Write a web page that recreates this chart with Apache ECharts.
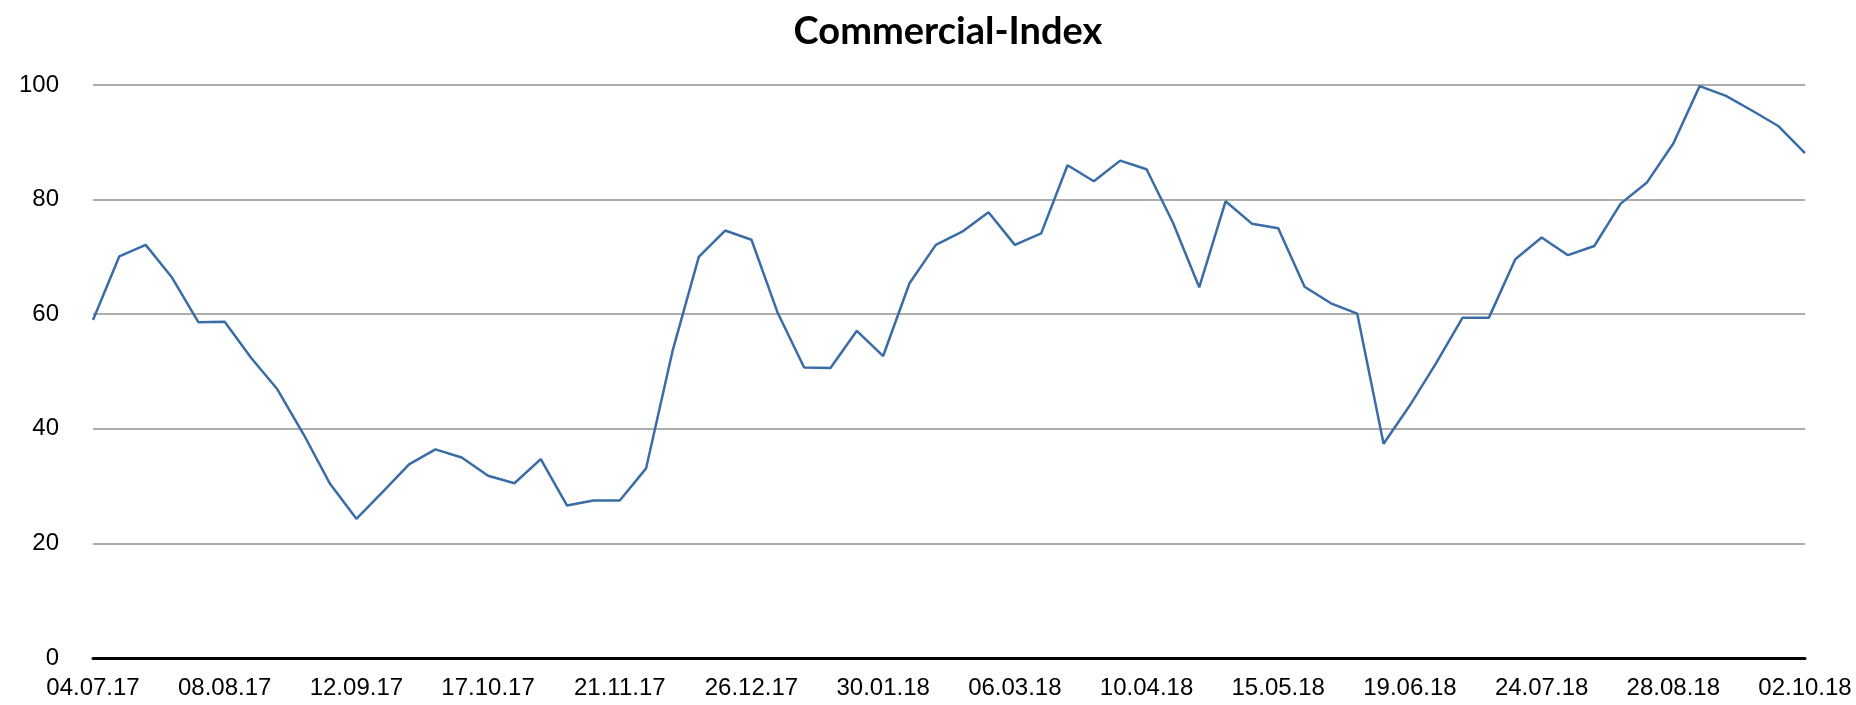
<!DOCTYPE html>
<html>
<head>
<meta charset="utf-8">
<title>Commercial-Index</title>
<script src="https://cdn.jsdelivr.net/npm/echarts@6/dist/echarts.min.js"></script>
<style>
  html, body { margin: 0; padding: 0; background: #fff; }
  #chart { width: 1856px; height: 705px; }
</style>
</head>
<body>
<div id="chart"></div>
<script>
  // weekly dates, 04.07.17 - 02.10.18
  var weeks = [
    '04.07.17', '11.07.17', '18.07.17', '25.07.17', '01.08.17', '08.08.17', '15.08.17', '22.08.17', '29.08.17',
    '05.09.17', '12.09.17', '19.09.17', '26.09.17', '03.10.17', '10.10.17', '17.10.17', '24.10.17', '31.10.17',
    '07.11.17', '14.11.17', '21.11.17', '28.11.17', '05.12.17', '12.12.17', '19.12.17', '26.12.17',
    '02.01.18', '09.01.18', '16.01.18', '23.01.18', '30.01.18', '06.02.18', '13.02.18', '20.02.18', '27.02.18',
    '06.03.18', '13.03.18', '20.03.18', '27.03.18', '03.04.18', '10.04.18', '17.04.18', '24.04.18',
    '01.05.18', '08.05.18', '15.05.18', '22.05.18', '29.05.18', '05.06.18', '12.06.18', '19.06.18', '26.06.18',
    '03.07.18', '10.07.18', '17.07.18', '24.07.18', '31.07.18', '07.08.18', '14.08.18', '21.08.18', '28.08.18',
    '04.09.18', '11.09.18', '18.09.18', '25.09.18', '02.10.18'
  ];
  var indexValues = [
    59.0, 70.1, 72.1, 66.4, 58.6, 58.7, 52.4, 46.9, 39.0, 30.4,
    24.3, 29.0, 33.8, 36.4, 35.0, 31.8, 30.5, 34.7, 26.6, 27.5,
    27.5, 33.1, 53.5, 70.0, 74.6, 73.0, 60.2, 50.7, 50.6, 57.1,
    52.7, 65.4, 72.1, 74.4, 77.8, 72.1, 74.1, 86.0, 83.2, 86.8,
    85.3, 76.0, 64.7, 79.7, 75.8, 75.0, 64.8, 61.9, 60.1, 37.4,
    44.1, 51.5, 59.4, 59.4, 69.6, 73.4, 70.3, 71.9, 79.3, 83.0,
    89.8, 99.8, 98.1, 95.5, 92.8, 88.1
  ];
  var yTicks = [0, 20, 40, 60, 80, 100];

  var labelFont = "'Liberation Sans', Arial, sans-serif";

  var myChart = echarts.init(document.getElementById('chart'));
  myChart.setOption({
    animation: false,
    title: {
      text: 'Commercial-Index',
      left: 948,
      top: 13,
      textAlign: 'center',
      padding: 0,
      textStyle: {
        fontFamily: 'Lato',
        fontWeight: 'bold',
        fontSize: 38,
        color: '#000'
      }
    },
    grid: {
      left: 93,
      right: 51,
      top: 85,
      bottom: 47
    },
    xAxis: {
      type: 'category',
      boundaryGap: false,
      data: weeks,
      axisLine: {
        lineStyle: {
          color: '#000',
          width: 3
        }
      },
      axisTick: {
        show: false
      },
      axisLabel: {
        interval: 4,
        margin: 18,
        color: '#000',
        fontFamily: labelFont,
        fontSize: 24
      },
      splitLine: {
        show: false
      }
    },
    yAxis: {
      type: 'value',
      min: yTicks[0],
      max: yTicks[yTicks.length - 1],
      interval: 20,
      axisLine: {
        show: false
      },
      axisTick: {
        show: false
      },
      axisLabel: {
        margin: 34,
        color: '#000',
        fontFamily: labelFont,
        fontSize: 24
      },
      splitLine: {
        lineStyle: {
          color: '#adadad',
          width: 2
        }
      }
    },
    series: [
      {
        type: 'line',
        data: indexValues,
        symbol: 'none',
        lineStyle: {
          color: '#3a6ca6',
          width: 2.5
        }
      }
    ]
  });
</script>
</body>
</html>
